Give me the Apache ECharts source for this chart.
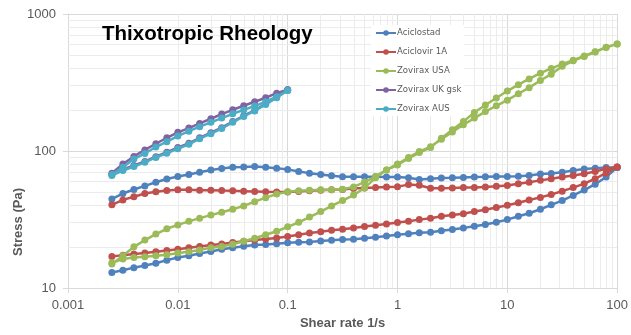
<!DOCTYPE html>
<html><head><meta charset="utf-8">
<script src="https://cdn.jsdelivr.net/npm/echarts@6/dist/echarts.min.js"></script>
<style>html,body{margin:0;padding:0;background:#fff}#c{width:631px;height:335px}</style>
</head><body><div id="c"></div>
<script>
const shearRate = [0.00251, 0.00316, 0.00398, 0.00501, 0.00631, 0.00794, 0.01, 0.0126, 0.0158, 0.02, 0.0251, 0.0316, 0.0398, 0.0501, 0.0631, 0.0794, 0.1, 0.126, 0.158, 0.2, 0.251, 0.316, 0.398, 0.501, 0.631, 0.794, 1, 1.26, 1.58, 2, 2.51, 3.16, 3.98, 5.01, 6.31, 7.94, 10, 12.6, 15.8, 20, 25.1, 31.6, 39.8, 50.1, 63.1, 79.4, 100];

const aciclostadUp = [13.0, 13.5, 14.1, 14.6, 15.2, 16.0, 16.7, 17.2, 17.9, 18.5,
  19.2, 19.7, 20.2, 20.6, 20.8, 21.1, 21.4, 21.6, 21.7, 22.1,
  22.3, 22.6, 22.7, 23.1, 23.5, 24.0, 24.5, 24.9, 25.3, 25.6,
  26.2, 26.8, 27.5, 28.3, 29.1, 30.2, 31.6, 33.4, 35.2, 37.6,
  40.5, 43.5, 47.4, 51.9, 57.3, 64.6, 76.0];
const aciclostadDown = [44.7, 49.0, 52.4, 55.7, 59.2, 62.5, 65.3, 67.5, 70.1, 72.8,
  74.5, 76.2, 76.5, 77.0, 76.2, 75.0, 73.5, 70.9, 69.0, 67.5,
  66.0, 64.9, 64.9, 64.9, 64.9, 64.6, 64.6, 63.8, 62.1, 62.8,
  63.5, 63.8, 64.2, 64.6, 64.9, 65.3, 65.3, 65.6, 66.4, 67.9,
  68.6, 70.1, 72.1, 74.1, 74.9, 75.8, 76.0];
const aciclovirUp = [17.0, 17.4, 17.7, 18.0, 18.4, 18.8, 19.2, 19.7, 20.1, 20.6,
  21.0, 21.5, 22.0, 22.4, 22.8, 23.2, 23.8, 24.5, 25.2, 25.8,
  26.4, 26.9, 27.5, 28.1, 28.7, 29.4, 30.1, 30.7, 31.6, 32.3,
  33.4, 34.2, 34.9, 36.2, 37.3, 38.7, 40.2, 42.0, 44.0, 45.9,
  48.2, 51.0, 54.1, 57.8, 62.8, 69.3, 76.5];
const aciclovirDown = [40.5, 44.0, 46.4, 49.0, 50.4, 51.5, 52.1, 52.1, 51.8, 51.8,
  51.5, 51.3, 51.0, 50.7, 50.4, 50.2, 50.3, 50.7, 51.3, 51.8,
  52.1, 52.4, 53.2, 53.8, 54.1, 54.7, 55.0, 56.9, 56.3, 53.6,
  53.6, 53.8, 54.1, 54.1, 54.7, 55.3, 56.0, 57.8, 59.2, 61.1,
  62.8, 64.6, 66.4, 68.2, 70.9, 74.1, 76.5];
const zoviraxUsaUp = [15.0, 17.2, 20.0, 22.4, 24.8, 27.1, 28.9, 30.7, 32.4, 34.1,
  35.8, 37.6, 39.8, 42.7, 45.7, 48.5, 50.5, 51.3, 51.8, 52.1,
  52.1, 52.7, 54.7, 59.4, 65.3, 72.8, 79.1, 88.4, 97.5, 106,
  124, 143, 164, 191, 217, 244, 274, 305, 336, 370,
  401, 431, 460, 494, 531, 573, 605];
const zoviraxUsaDown = [15.3, 16.3, 16.7, 16.9, 17.2, 17.5, 18.0, 18.4, 19.0, 19.7,
  20.1, 20.9, 22.0, 23.1, 24.5, 26.0, 28.0, 30.2, 33.0, 36.2,
  39.8, 43.5, 47.7, 53.8, 63.8, 72.8, 80.5, 89.8, 99.1, 107.7,
  122, 138, 155.6, 174, 194, 214, 235, 262, 290, 327,
  364, 415, 455, 490, 528, 570, 605];
const zoviraxUkUp = [69, 80.4, 91.4, 101.9, 113, 125, 137, 147, 159, 172, 186, 200, 214, 229, 245, 264, 280];
const zoviraxUkDown = [67.5, 73.5, 78.5, 84, 91, 98, 106, 114, 125, 136, 148, 164, 181, 198, 221, 247, 280];
const zoviraxAusUp = [67.5, 76.2, 87.4, 96, 107, 117, 128.5, 139.6, 150.6, 162, 174, 187, 199.5, 213, 229, 249, 277];
const zoviraxAusDown = [66.4, 72.1, 77.1, 82.7, 89.8, 96.4, 104, 112, 123, 134, 146, 162, 179, 196, 219, 245, 277];

const seriesNames = ['Aciclostad', 'Aciclovir 1A', 'Zovirax USA', 'Zovirax UK gsk', 'Zovirax AUS'];
const seriesColors = ['#4f81bd', '#c0504d', '#9bbb59', '#8064a2', '#4bacc6'];
const xTickLabels = ['0.001', '0.01', '0.1', '1', '10', '100'];
const yTickLabels = ['10', '100', '1000'];
const minorX = [0.002,0.003,0.004,0.005,0.006,0.007,0.008,0.009,
  0.02,0.03,0.04,0.05,0.06,0.07,0.08,0.09,
  0.2,0.3,0.4,0.5,0.6,0.7,0.8,0.9,
  2,3,4,5,6,7,8,9,
  20,30,40,50,60,70,80,90];
const minorY = [20,30,40,50,60,70,80,90,200,300,400,500,600,700,800,900];

function loop(up, down) {
  const out = [];
  for (let i = 0; i < up.length; i++) out.push([shearRate[i], up[i]]);
  for (let i = down.length - 1; i >= 0; i--) out.push([shearRate[i], down[i]]);
  return out;
}
const loops = [
  loop(aciclostadUp, aciclostadDown),
  loop(aciclovirUp, aciclovirDown),
  loop(zoviraxUsaUp, zoviraxUsaDown),
  loop(zoviraxUkUp, zoviraxUkDown),
  loop(zoviraxAusUp, zoviraxAusDown)
];

const chart = echarts.init(document.getElementById('c'), null, {renderer: 'canvas'});
const labelColor = '#595959';
const series = [{
  name: '_grid', type: 'line', data: [], z: 1, silent: true,
  markLine: {
    z: 1, silent: true, symbol: ['none', 'none'], animation: false,
    label: {show: false},
    lineStyle: {color: '#ececec', type: 'solid', width: 1},
    data: minorX.map(v => ({xAxis: v})).concat(minorY.map(v => ({yAxis: v})))
  }
}];
seriesNames.forEach((n, i) => {
  series.push({
    name: n, type: 'line', data: loops[i], z: 3 + i,
    symbol: 'circle', symbolSize: 7, showSymbol: true,
    lineStyle: {width: 2.5, type: 'solid', color: seriesColors[i]},
    itemStyle: {color: seriesColors[i], borderWidth: 0},
    emphasis: {disabled: true}
  });
});

chart.setOption({
  animation: false,
  backgroundColor: '#fff',
  title: {
    text: 'Thixotropic Rheology', left: 97, top: 19,
    textStyle: {fontFamily: 'Liberation Sans, Arial, sans-serif', fontWeight: 'bold', fontSize: 20.5, color: '#000'}
  },
  legend: {
    data: seriesNames, orient: 'vertical', left: 371, top: 25, z: 10,
    backgroundColor: '#fff', padding: [3, 3, 2, 4],
    itemWidth: 20, itemHeight: 7, itemGap: 9,
    textStyle: {fontFamily: "'Liberation Sans Narrow', 'DejaVu Sans Condensed', sans-serif", fontSize: 9.5, lineHeight: 10, color: labelColor, padding: [0, 0, 0, -4]}
  },
  grid: {left: 68, right: 8, top: 14, bottom: 42, containLabel: false},
  xAxis: {
    type: 'log', logBase: 10, min: 0.001, max: 100,
    name: 'Shear rate 1/s', nameLocation: 'middle', nameGap: 25,
    nameTextStyle: {fontFamily: 'Liberation Sans, Arial, sans-serif', fontWeight: 'bold', fontSize: 13, color: labelColor},
    axisLine: {show: true, lineStyle: {color: '#d9d9d9', width: 1}},
    axisTick: {show: true, length: 5, lineStyle: {color: '#d9d9d9'}},
    splitLine: {show: true, lineStyle: {color: '#d9d9d9', width: 1}},
    axisLabel: {
      margin: 11, fontFamily: 'Liberation Sans, Arial, sans-serif', fontSize: 13, color: labelColor,
      formatter: v => xTickLabels[Math.round(Math.log10(v)) + 3]
    }
  },
  yAxis: {
    type: 'log', logBase: 10, min: 10, max: 1000,
    axisLine: {show: true, lineStyle: {color: '#d9d9d9', width: 1}},
    axisTick: {show: true, length: 5, lineStyle: {color: '#d9d9d9'}},
    splitLine: {show: true, lineStyle: {color: '#d9d9d9', width: 1}},
    axisLabel: {
      margin: 12, fontFamily: 'Liberation Sans, Arial, sans-serif', fontSize: 13, color: labelColor,
      formatter: v => yTickLabels[Math.round(Math.log10(v)) - 1]
    }
  },
  graphic: [{
    type: 'text', x: 18, y: 222, rotation: Math.PI / 2,
    style: {text: 'Stress (Pa)', align: 'center', verticalAlign: 'middle',
      font: 'bold 13px "Liberation Sans", Arial, sans-serif', fill: labelColor}
  }],
  series: series
});
</script>
</body></html>
